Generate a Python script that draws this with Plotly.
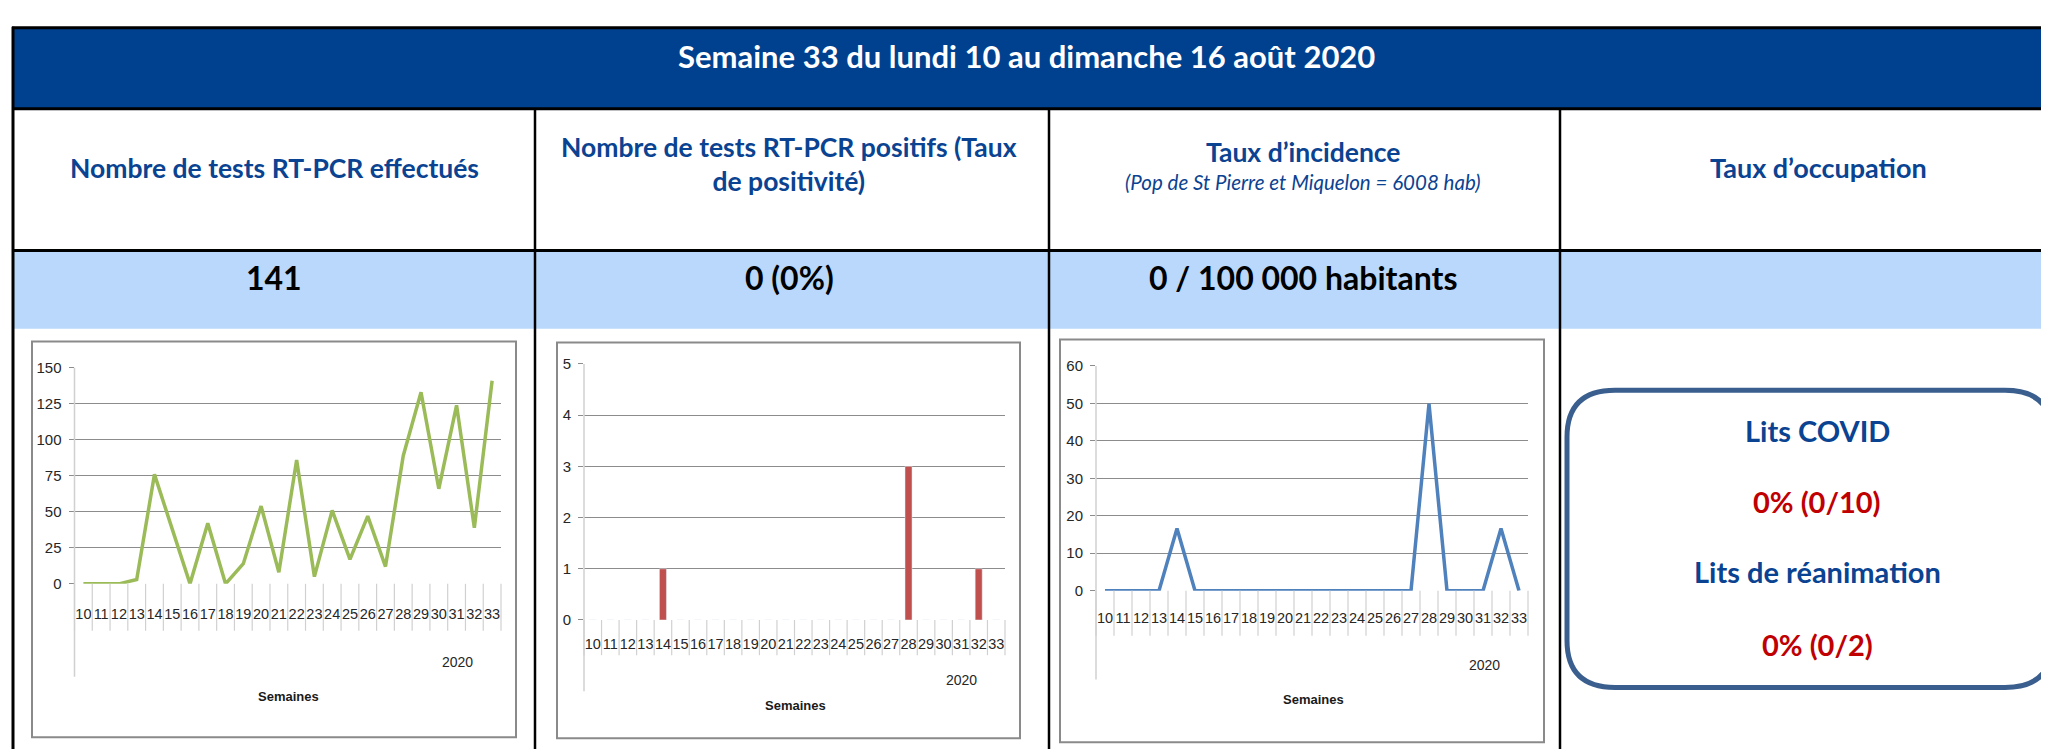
import plotly.graph_objects as go

W, H = 2049, 749

# ---------------- data ----------------
weeks = ["10", "11", "12", "13", "14", "15", "16", "17", "18", "19", "20", "21",
         "22", "23", "24", "25", "26", "27", "28", "29", "30", "31", "32", "33"]
tests_done = [0, 0, 0, 3, 76, 38, 0, 42, 0, 14, 54, 8,
              86, 5, 51, 17, 47, 12, 89, 133, 66, 124, 39, 141]
tests_positive = [0, 0, 0, 0, 1, 0, 0, 0, 0, 0, 0, 0,
                  0, 0, 0, 0, 0, 0, 3, 0, 0, 0, 1, 0]
incidence = [0, 0, 0, 0, 16.6, 0, 0, 0, 0, 0, 0, 0,
             0, 0, 0, 0, 0, 0, 49.9, 0, 0, 0, 16.6, 0]

header_text = "Semaine 33 du lundi 10 au dimanche 16 août 2020"
col_titles = ["Nombre de tests RT-PCR effectués",
              "Nombre de tests RT-PCR positifs (Taux<br>de positivité)",
              "Taux d’incidence",
              "Taux d’occupation"]
incidence_note = "(Pop de St Pierre et Miquelon = 6008 hab)"
key_values = ["141", "0 (0%)", "0 / 100 000 habitants"]
beds_labels = ["Lits COVID", "Lits de réanimation"]
beds_values = ["0% (0/10)", "0% (0/2)"]
year_label = "2020"
x_title = "Semaines"

# ---------------- helpers ----------------
def px(x):
    return x / W

def py(y):
    return 1 - y / H

BLUE_DARK = "#00418F"
BLUE_TXT = "#0A4391"
LIGHT_BLUE = "#B9D8FB"
RED_TXT = "#C00000"
TITLE_FONT = "Lato, 'Open Sans', sans-serif"
AX_FONT = "'Liberation Sans', Arial, sans-serif"
AX_COL = "#262626"

fig = go.Figure()

fig.add_trace(go.Scatter(x=weeks, y=tests_done, mode="lines",
                         line=dict(color="#9BBB59", width=3.5),
                         xaxis="x", yaxis="y", hoverinfo="x+y"))
fig.add_trace(go.Bar(x=weeks, y=tests_positive, marker_color="#C0504D",
                     xaxis="x2", yaxis="y2", hoverinfo="x+y"))
fig.add_trace(go.Scatter(x=weeks, y=incidence, mode="lines",
                         line=dict(color="#4F81BD", width=3.5),
                         xaxis="x3", yaxis="y3", hoverinfo="x+y"))

# chart geometry (pixels): box, plot area, separators bottom, axis line bottom
charts = [
    dict(box=(24, 332, 508, 737), plot=(66.5, 359, 493, 580), sep=628, axb=675,
         rng=[0, 150], dtick=25, stand=20, year=(449, 660), xt=(280, 695)),
    dict(box=(549, 333, 1012, 738), plot=(576, 355, 997, 617), sep=653, axb=690,
         rng=[0, 5], dtick=1, stand=14, year=(953, 678), xt=(787, 704)),
    dict(box=(1052, 330, 1536, 742), plot=(1088, 357, 1520, 587), sep=633, axb=678,
         rng=[0, 60], dtick=10, stand=17, year=(1476, 663), xt=(1305, 698)),
]

shapes = []
annotations = []

def note(text, x, y, size, color, family=TITLE_FONT):
    annotations.append(dict(text=text, xref="paper", yref="paper", x=px(x), y=py(y),
                            showarrow=False, xanchor="center", yanchor="middle",
                            font=dict(family=family, size=size, color=color)))

# ---------------- table background ----------------
shapes.append(dict(type="rect", xref="paper", yref="paper", x0=px(5), x1=px(2060),
                   y0=py(94), y1=py(11), fillcolor=BLUE_DARK, line=dict(width=0), layer="below"))
shapes.append(dict(type="rect", xref="paper", yref="paper", x0=px(5), x1=px(2060),
                   y0=py(319), y1=py(239), fillcolor=LIGHT_BLUE, line=dict(width=0), layer="below"))
for yline in (11, 94, 239):
    shapes.append(dict(type="line", xref="paper", yref="paper", x0=px(4), x1=px(2060),
                       y0=py(yline), y1=py(yline), line=dict(color="black", width=3), layer="below"))
shapes.append(dict(type="line", xref="paper", yref="paper", x0=px(5), x1=px(5),
                   y0=py(10), y1=py(760), line=dict(color="black", width=3), layer="below"))
for xline in (527, 1041, 1552):
    shapes.append(dict(type="line", xref="paper", yref="paper", x0=px(xline), x1=px(xline),
                       y0=py(94), y1=py(760), line=dict(color="black", width=2.5), layer="below"))

# ---------------- chart frames & axes ----------------
layout_axes = {}
n = len(weeks)
for i, c in enumerate(charts):
    k = "" if i == 0 else str(i + 1)
    bx0, by0, bx1, by1 = c["box"]
    shapes.append(dict(type="rect", xref="paper", yref="paper", x0=px(bx0), x1=px(bx1),
                       y0=py(by1), y1=py(by0), fillcolor="white",
                       line=dict(color="#8A8A8A", width=2), layer="below"))
    x0, y0, x1, y1 = c["plot"]
    layout_axes["xaxis" + k] = dict(domain=[px(x0), px(x1)], type="category",
                                    range=[-0.5, n - 0.5], showgrid=False, showline=False,
                                    zeroline=False, ticks="", anchor="y" + k,
                                    tickmode="array", tickvals=weeks, ticktext=weeks,
                                    tickangle=0,
                                    tickfont=dict(family=AX_FONT, size=14.5, color=AX_COL),
                                    ticklabelstandoff=c["stand"], fixedrange=True)
    layout_axes["yaxis" + k] = dict(domain=[py(y1), py(y0)], range=c["rng"], dtick=c["dtick"],
                                    showgrid=True, gridcolor="#8C8C8C", gridwidth=1.3,
                                    showline=False, zeroline=False, ticks="outside", ticklen=5,
                                    tickcolor="#8C8C8C", anchor="x" + k,
                                    ticklabelstandoff=4,
                                    tickfont=dict(family=AX_FONT, size=15, color=AX_COL),
                                    fixedrange=True)
    xd = "x" + k + " domain"
    for j in range(n + 1):
        shapes.append(dict(type="line", xref=xd, yref="paper", x0=j / n, x1=j / n,
                           y0=py(y1), y1=py(c["sep"]), line=dict(color="#D0D0D0", width=1.2)))
    shapes.append(dict(type="line", xref=xd, yref="paper", x0=0, x1=0,
                       y0=py(y0), y1=py(c["axb"]), line=dict(color="#D0D0D0", width=1.5)))
    note(year_label, c["year"][0], c["year"][1], 14, AX_COL, AX_FONT)
    note("<b>" + x_title + "</b>", c["xt"][0], c["xt"][1], 13, "#1a1a1a", AX_FONT)

# ---------------- table texts ----------------
note("<b>" + header_text + "</b>", 1018, 40, 31, "white")
note("<b>" + col_titles[0] + "</b>", 266, 155, 26.5, BLUE_TXT)
note("<b>" + col_titles[1] + "</b>", 781, 150, 26.5, BLUE_TXT)
note("<b>" + col_titles[2] + "</b>", 1295, 138, 26.5, BLUE_TXT)
note("<i>" + incidence_note + "</i>", 1294, 169, 20.5, BLUE_TXT)
note("<b>" + col_titles[3] + "</b>", 1810, 154, 27, BLUE_TXT)
for t, xc in zip(key_values, [266, 781, 1295]):
    note("<b>" + t + "</b>", xc, 267, 32, "black")

# ---------------- occupancy box ----------------
rx0, ry0, rx1, ry1, r = 1559, 382, 2045, 686, 48
def P(x, y):
    return f"{px(x):.6f},{py(y):.6f}"
path = (f"M {P(rx0 + r, ry0)} L {P(rx1 - r, ry0)} Q {P(rx1, ry0)} {P(rx1, ry0 + r)} "
        f"L {P(rx1, ry1 - r)} Q {P(rx1, ry1)} {P(rx1 - r, ry1)} "
        f"L {P(rx0 + r, ry1)} Q {P(rx0, ry1)} {P(rx0, ry1 - r)} "
        f"L {P(rx0, ry0 + r)} Q {P(rx0, ry0)} {P(rx0 + r, ry0)} Z")
shapes.append(dict(type="path", xref="paper", yref="paper", path=path,
                   line=dict(color="#3A5F8E", width=5), fillcolor="rgba(0,0,0,0)"))
box_rows = [(beds_labels[0], BLUE_TXT, 423), (beds_values[0], RED_TXT, 496),
            (beds_labels[1], BLUE_TXT, 567), (beds_values[1], RED_TXT, 642)]
for t, col, yc in box_rows:
    note("<b>" + t + "</b>", 1809, yc, 29, col)

fig.update_layout(width=W, height=H, margin=dict(l=0, r=0, t=0, b=0),
                  paper_bgcolor="white", plot_bgcolor="rgba(0,0,0,0)",
                  showlegend=False, bargap=0.6, shapes=shapes, annotations=annotations,
                  **layout_axes)

fig.write_html("out.html", config={"displayModeBar": False})
